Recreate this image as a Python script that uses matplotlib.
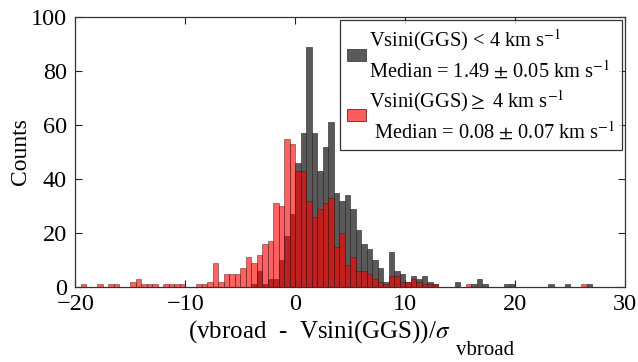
import numpy as np
import matplotlib.pyplot as plt

plt.rcParams['font.family'] = ['Liberation Serif', 'DejaVu Serif']
plt.rcParams['mathtext.fontset'] = 'stix'

bin_width = 0.5

# Vsini(GGS) < 4 km/s  (left bin edge, counts)
slow_edges = [-4.0, -3.5, -3.0, -2.5, -2.0, -1.5, -1.0, -0.5, 0.0, 0.5,
              1.0, 1.5, 2.0, 2.5, 3.0, 3.5, 4.0, 4.5, 5.0, 5.5,
              6.0, 6.5, 7.0, 7.5, 8.0, 8.5, 9.0, 9.5, 10.0, 10.5,
              11.0, 11.5, 12.0, 12.5, 14.5, 16.0, 16.5, 17.0, 19.0, 19.5,
              23.0, 24.5, 26.5]
slow_counts = [1, 6, 1, 3, 3, 10, 19, 27, 46, 57,
               89, 57, 43, 52, 61, 35, 32, 34, 29, 21,
               16, 14, 10, 7, 2, 13, 6, 5, 2, 4,
               3, 4, 2, 1, 2, 1, 3, 1, 1, 1,
               1, 1, 1]

# Vsini(GGS) >= 4 km/s
fast_edges = [-19.5, -18.0, -17.0, -16.5, -15.0, -14.5, -14.0, -13.5, -13.0, -12.0,
              -11.5, -11.0, -10.5, -9.0, -8.5, -8.0, -7.5, -7.0, -6.5, -6.0,
              -5.5, -5.0, -4.5, -4.0, -3.5, -3.0, -2.5, -2.0, -1.5, -1.0,
              -0.5, 0.0, 0.5, 1.0, 1.5, 2.0, 2.5, 3.0, 3.5, 4.0,
              4.5, 5.0, 5.5, 6.0, 6.5, 7.0, 7.5, 8.0, 8.5, 9.0,
              9.5, 10.0, 10.5, 11.0, 11.5, 12.0, 12.5, 15.5, 26.0]
fast_counts = [1, 1, 1, 1, 2, 3, 1, 1, 1, 1,
               1, 1, 1, 1, 1, 2, 9, 2, 5, 5,
               5, 7, 11, 9, 12, 16, 17, 31, 30, 55,
               53, 43, 43, 32, 26, 29, 31, 33, 15, 20,
               8, 11, 6, 6, 5, 3, 2, 1, 4, 4,
               2, 2, 3, 2, 1, 1, 1, 1, 1]

slow_label = 'Vsini(GGS) < 4 km s$^{-1}$\nMedian = 1.49 $\\pm$ 0.05 km s$^{-1}$'
fast_label = 'Vsini(GGS)$\\geq$ 4 km s$^{-1}$\n Median = 0.08 $\\pm$ 0.07 km s$^{-1}$'

fig = plt.figure(figsize=(6.38, 3.62), dpi=100)
ax = fig.add_subplot(111)
fig.subplots_adjust(left=0.118, right=0.98, top=0.953, bottom=0.207)

ax.bar(slow_edges, slow_counts, width=bin_width, align='edge',
       color='#3c3c3c', alpha=0.85, edgecolor='#2a2a2a', linewidth=0.5,
       label=slow_label)
ax.bar(fast_edges, fast_counts, width=bin_width, align='edge',
       color='#ff0000', alpha=0.62, edgecolor='#3a1010', linewidth=0.5,
       label=fast_label)

ax.set_xlim(-20, 30)
ax.set_ylim(0, 100)
ax.set_xticks(np.arange(-20, 31, 10))
ax.set_yticks(np.arange(0, 101, 20))
ax.tick_params(direction='in', top=True, right=True, labelsize=17.5,
               length=5, width=0.8, color='#222222')
ax.tick_params(axis='y', pad=6)
ax.tick_params(axis='x', pad=5)
for s in ax.spines.values():
    s.set_linewidth(0.9)
    s.set_color('#333333')

# x label: main part plus a large, low subscript
xl = ax.set_xlabel('(vbroad  -  Vsini(GGS))/$\\sigma$', fontsize=18)
ax.xaxis.set_label_coords(0.444, -0.115)
ax.annotate('vbroad', xy=(1, 0), xycoords=xl, xytext=(3.5, -7.5),
            textcoords='offset points', ha='left', va='baseline', fontsize=15)

ax.set_ylabel('Counts', fontsize=17)
ax.yaxis.set_label_coords(-0.08, 0.5)

leg = ax.legend(loc='upper right', fontsize=14.7, frameon=True, fancybox=False,
                edgecolor='black', borderaxespad=0.15, handlelength=0.9,
                handleheight=0.55, handletextpad=0.15, borderpad=0.35,
                labelspacing=0.25)
leg.get_frame().set_linewidth(0.9)
for t in leg.get_texts():
    t.set_linespacing(1.4)
for h in leg.legend_handles:
    h.set_alpha(None)
leg.legend_handles[0].set_facecolor('#5a5a5a')
leg.legend_handles[1].set_facecolor('#ff5c5c')

fig.savefig('out.png', dpi=100)
